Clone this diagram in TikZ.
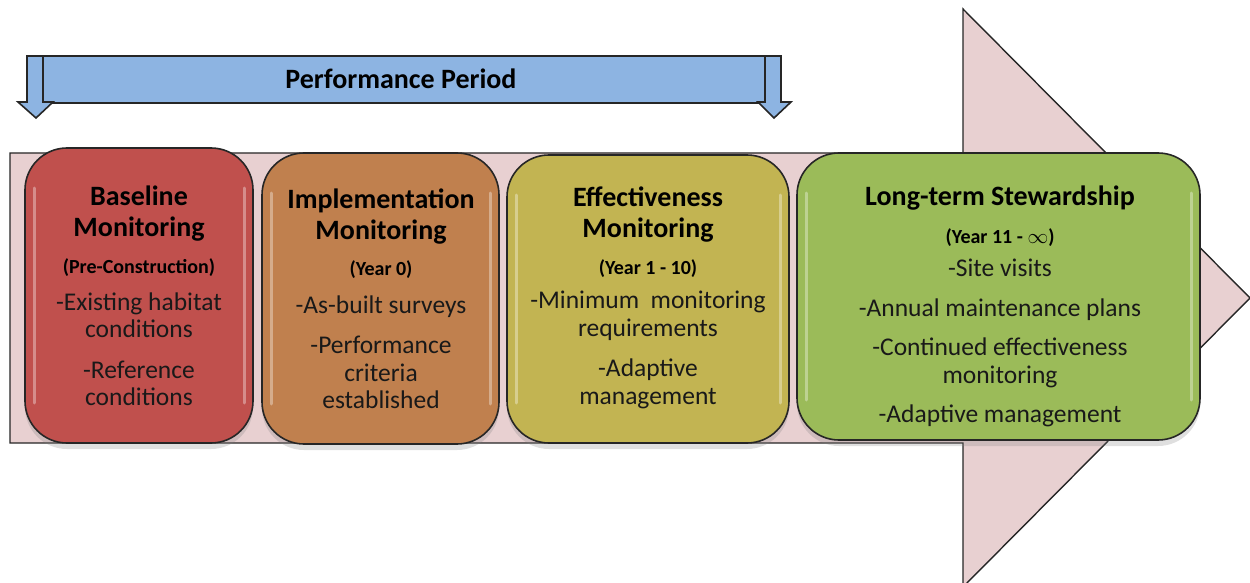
\documentclass[tikz,border=0pt]{standalone}
\usepackage{fontspec}
\setmainfont{Carlito}
\usepackage{tikz}
\usetikzlibrary{
calc,
shadows,
}

\definecolor{arrowpink}{HTML}{E8D0D1}
\definecolor{periodblue}{HTML}{8DB4E2}
\definecolor{baselinered}{HTML}{C0504D}
\definecolor{implementbrown}{HTML}{C0804E}
\definecolor{effectiveolive}{HTML}{C2B452}
\definecolor{stewardgreen}{HTML}{9BBB59}
\definecolor{outline}{HTML}{262626}

\tikzset{
  stage/.style={draw=outline, line width=1.6pt, rounded corners=42pt,
    drop shadow={shadow xshift=0pt, shadow yshift=-6pt, opacity=0.25},
    path picture={
      \draw[white, opacity=.35, line width=3pt, line cap=round]
        ([xshift=9pt,yshift=-40pt]path picture bounding box.north west) --
        ([xshift=9pt,yshift=40pt]path picture bounding box.south west);
      \draw[white, opacity=.35, line width=3pt, line cap=round]
        ([xshift=-9pt,yshift=-40pt]path picture bounding box.north east) --
        ([xshift=-9pt,yshift=40pt]path picture bounding box.south east);
    }},
  head/.style={align=center, inner sep=0pt, font=\fontsize{28}{31}\selectfont\bfseries},
  sub/.style={align=center, inner sep=0pt, font=\fontsize{20}{24}\selectfont\bfseries},
  body/.style={align=center, inner sep=0pt, text=black!90, font=\fontsize{25.5}{27.5}\selectfont},
  bar/.style={draw=outline, line width=1.6pt, fill=periodblue},
}

\begin{document}
\begin{tikzpicture}[x=1pt, y=-1pt]
  \useasboundingbox (0,0) rectangle (1250,583);

  % big arrow behind the stages
  \draw[draw=outline, line width=1.4pt, fill=arrowpink]
    (10,153) -- (963,153) -- (963,9) -- (1250,298) -- (963,587)
    -- (963,443) -- (10,443) -- cycle;

  % performance period bar
  \draw[bar] (43,56) rectangle (765,103);
  \draw[bar] (27,56) -- (43,56) -- (43,102) -- (53,102) -- (36,118)
    -- (18,102) -- (27,102) -- cycle;
  \draw[bar] (765,56) -- (781,56) -- (781,102) -- (791,102) -- (774,118)
    -- (758,102) -- (765,102) -- cycle;
  \node[head] (period) at (401,79) {Performance Period};

  % stages
  \node[stage, fill=baselinered, minimum width=228pt, minimum height=295pt]
    (baseline) at (139,295.5) {};
  \node[stage, fill=implementbrown, minimum width=237pt, minimum height=291pt]
    (implement) at (380.5,298.5) {};
  \node[stage, fill=effectiveolive, minimum width=282pt, minimum height=288pt]
    (effective) at (648,299) {};
  \node[stage, fill=stewardgreen, minimum width=403pt, minimum height=287pt]
    (steward) at (998.5,296.5) {};

  \node[head] (baseline-head) at (139,214) {Baseline\\Monitoring};
  \node[sub] (baseline-sub) at (139,268) {(Pre-Construction)};
  \node[body] (baseline-body) at (139,349)
    {-Existing habitat\\conditions\\[13pt]-Reference\\conditions};

  \node[head] (implement-head) at (381,217) {Implementation\\Monitoring};
  \node[sub] (implement-sub) at (381,270) {(Year 0)};
  \node[body] (implement-body) at (381,352)
    {-As-built surveys\\[13pt]-Performance\\criteria\\established};

  \node[head] (effective-head) at (648,215) {Effectiveness\\Monitoring};
  \node[sub] (effective-sub) at (648,269) {(Year 1 - 10)};
  \node[body] (effective-body) at (648,350)
    {-Minimum~ monitoring\\requirements\\[13pt]-Adaptive\\management};

  \node[head] (steward-head) at (1000,198) {Long-term Stewardship};
  \node[sub] (steward-sub) at (1000,238) {(Year 11 - $\infty$)};
  \node[body] (steward-body) at (1000,343)
    {-Site visits\\[12pt]-Annual maintenance plans\\[12pt]-Continued effectiveness\\monitoring\\[12pt]-Adaptive management};
\end{tikzpicture}
\end{document}
